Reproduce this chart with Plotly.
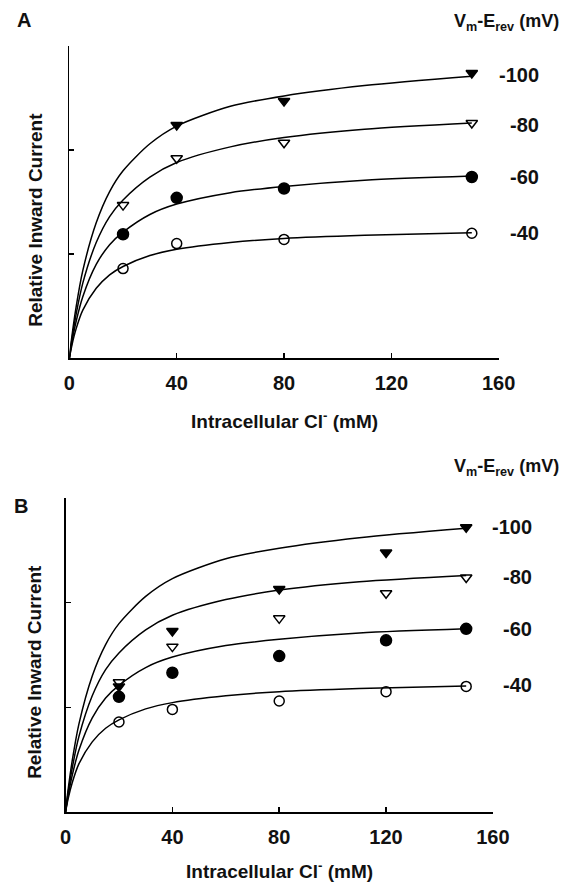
import plotly.graph_objects as go

# ---------------- data ----------------
# Panel A measured points (intracellular Cl- in mM, relative inward current)
conc_A = [20, 40, 80, 150]
A_m100_x = [40, 80, 150]
A_m100 = [2.24, 2.47, 2.74]
A_m80 = [1.47, 1.92, 2.07, 2.26]
A_m60 = [1.19, 1.54, 1.63, 1.74]
A_m40 = [0.86, 1.10, 1.14, 1.20]

# Panel B measured points
conc_B = [20, 40, 80, 120, 150]
B_m100 = [1.20, 1.73, 2.13, 2.48, 2.72]
B_m80 = [1.24, 1.58, 1.85, 2.09, 2.24]
B_m60 = [1.10, 1.33, 1.49, 1.64, 1.75]
B_m40 = [0.86, 0.98, 1.06, 1.15, 1.20]

# Fitted curves (same curves in both panels)
curve_x = [0, 1, 2.5, 5, 10, 15, 20, 30, 40, 60, 80, 110, 150]
curve_m100 = [0, 0.22, 0.49, 0.84, 1.30, 1.60, 1.80, 2.06, 2.23, 2.42, 2.52, 2.62, 2.71]
curve_m80 = [0, 0.19, 0.42, 0.72, 1.11, 1.36, 1.52, 1.74, 1.88, 2.03, 2.12, 2.20, 2.26]
curve_m60 = [0, 0.16, 0.35, 0.59, 0.90, 1.09, 1.21, 1.38, 1.48, 1.59, 1.65, 1.71, 1.75]
curve_m40 = [0, 0.13, 0.28, 0.46, 0.67, 0.80, 0.88, 0.985, 1.045, 1.11, 1.15, 1.18, 1.205]

voltage_labels = ["-100", "-80", "-60", "-40"]
x_ticks = [0, 40, 80, 120, 160]

# ---------------- layout helpers ----------------
W, H = 580, 886
FONT = "Liberation Sans, Arial, Helvetica, sans-serif"
TXT = "#111111"


def fx(px):
    return px / W


def fy(py):
    return 1 - py / H


fig = go.Figure()

curves = [curve_m100, curve_m80, curve_m60, curve_m40]
symbols = ["triangle-down", "triangle-down-open", "circle", "circle-open"]
sizes = [10, 10, 11, 10]

for xa, ya in [("x", "y"), ("x2", "y2")]:
    for c in curves:
        fig.add_trace(go.Scatter(
            x=curve_x, y=c, mode="lines",
            line=dict(color="black", width=1.5, shape="spline", smoothing=0.8),
            xaxis=xa, yaxis=ya, showlegend=False, hoverinfo="skip"))

pts_A = [(A_m100_x, A_m100), (conc_A, A_m80), (conc_A, A_m60), (conc_A, A_m40)]
for (xs, ys), sym, sz in zip(pts_A, symbols, sizes):
    fig.add_trace(go.Scatter(
        x=xs, y=ys, mode="markers",
        marker=dict(symbol=sym, size=sz, color="black", line=dict(color="black", width=1.5)),
        xaxis="x", yaxis="y", showlegend=False))

pts_B = [B_m100, B_m80, B_m60, B_m40]
for ys, sym, sz in zip(pts_B, symbols, sizes):
    fig.add_trace(go.Scatter(
        x=conc_B, y=ys, mode="markers",
        marker=dict(symbol=sym, size=sz, color="black", line=dict(color="black", width=1.5)),
        xaxis="x2", yaxis="y2", showlegend=False))

axis_common = dict(
    showgrid=False, zeroline=False, showline=True, linecolor="black", linewidth=1.6,
    ticks="inside", ticklen=5, tickcolor="black", tickwidth=1.5,
)
xaxis_common = dict(axis_common, range=[0, 160], tickvals=x_ticks,
                    ticktext=[str(v) for v in x_ticks],
                    tickfont=dict(family=FONT, size=20, color=TXT, weight="bold"),
                    ticklabelstandoff=6)
yaxis_common = dict(axis_common, range=[0, 3], tickvals=[1, 2, 3], showticklabels=False)

fig.update_layout(
    width=W, height=H, autosize=False,
    margin=dict(l=0, r=0, t=0, b=0),
    paper_bgcolor="white", plot_bgcolor="white",
    font=dict(family=FONT, color=TXT),
    hovermode=False,
    xaxis=dict(xaxis_common, domain=[fx(66), fx(513)], anchor="y"),
    yaxis=dict(yaxis_common, domain=[fy(358), fy(46)], anchor="x"),
    xaxis2=dict(xaxis_common, domain=[fx(62), fx(507)], anchor="y2"),
    yaxis2=dict(yaxis_common, domain=[fy(812), fy(498)], anchor="x2"),
)

ann = []


def add_text(text, px, py, size=20, xanchor="center", yanchor="middle", angle=0):
    ann.append(dict(text=text, x=fx(px), y=fy(py), xref="paper", yref="paper",
                    xanchor=xanchor, yanchor=yanchor, showarrow=False, textangle=angle,
                    font=dict(family=FONT, size=size, color=TXT, weight="bold")))


# Panel letters
add_text("A", 19, 20, size=20)
add_text("B", 16, 506, size=20)

# Headers
header = "V<sub>m</sub>-E<sub>rev</sub> (mV)"
add_text(header, 578, 23, size=18, xanchor="right")
add_text(header, 578, 467, size=18, xanchor="right")

# Voltage labels
for lab, py in zip(voltage_labels, [75, 125, 177, 233]):
    add_text(lab, 557, py, size=20, xanchor="right")
for lab, py in zip(voltage_labels, [527, 577, 629, 685]):
    add_text(lab, 550, py, size=20, xanchor="right")

# Axis titles
xtitle = "Intracellular Cl<sup>-</sup> (mM)"
add_text(xtitle, 290, 420, size=19)
add_text(xtitle, 285, 870, size=19)
ytitle = "Relative Inward Current"
add_text(ytitle, 31, 220, size=19, angle=-90)
add_text(ytitle, 29, 672, size=19, angle=-90)

fig.update_layout(annotations=ann)

# remove the default 8px page margin so the 580x886 figure fills the window exactly
fig.write_html("out.html", config={"displayModeBar": False, "staticPlot": True},
               post_script="document.body.style.margin='0';")
